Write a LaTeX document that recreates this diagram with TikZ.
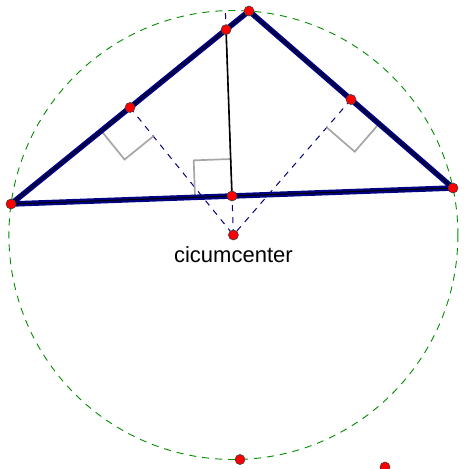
\documentclass[tikz,border=0pt]{standalone}
\usepackage{fontspec}
\setsansfont{Liberation Sans}
\usetikzlibrary{calc,positioning}
\definecolor{navy}{RGB}{0,0,128}

\begin{document}
\begin{tikzpicture}[x=1pt,y=-1pt,
 side/.style={draw=navy,line width=5.5pt,line cap=round,line join=round},
 core/.style={draw=black,line width=1pt},
 perp/.style={draw=navy,line width=1pt,dash pattern=on 6pt off 6pt},
 rmark/.style={draw=black!35,line width=1.7pt},
 circ/.style={draw=green!55!black,line width=0.9pt,dash pattern=on 7pt off 6pt},
 dot/.style={circle,fill=red,draw=black!75,line width=0.6pt,inner sep=0pt,minimum size=10pt},
 lbl/.style={font=\sffamily\fontsize{22}{26}\selectfont,inner sep=2pt}]
\clip (0,0) rectangle (464,469);
% triangle and its circumcircle
\coordinate (A) at (11,204);
\coordinate (B) at (249,11);
\coordinate (C) at (453,188);
\coordinate (Mab) at ($(A)!0.5!(B)$);
\coordinate (Mbc) at ($(B)!0.5!(C)$);
\coordinate (Mac) at ($(A)!0.5!(C)$);
\coordinate (O) at (233.4,235);
\coordinate (P) at (intersection of Mac--O and A--B);
\coordinate (T) at ($(O)!224.5pt!(Mac)$);
\coordinate (D) at (240,459.5);
\coordinate (E) at (385,467);
\draw[circ] (O) circle[radius=224.5];
\draw[perp] (Mab)--(O);\draw[perp] (Mbc)--(O);\draw[perp] (O)--(T);
% right angle marks
\foreach \m/\p/\q in {Mab/A/O,Mbc/C/O,Mac/A/P}{
 \coordinate (u) at ($(\m)!37pt!(\p)$);
 \coordinate (v) at ($(\m)!37pt!(\q)$);
 \draw[rmark] (u)--($(u)+(v)-(\m)$)--(v);
}
\draw[side] (A)--(B)--(C)--cycle;
\draw[core] (A)--(B)--(C)--cycle;
\draw[core,line width=1.6pt] (Mac)--(P);
\draw[side] (E)--++(-14,18);
\foreach \p in {A,B,C,Mab,Mbc,Mac,P,O,D,E}
 \node[dot] (n\p) at (\p) {};
\node[lbl,below=4pt of nO] (cc) {cicumcenter};
\end{tikzpicture}
\end{document}
